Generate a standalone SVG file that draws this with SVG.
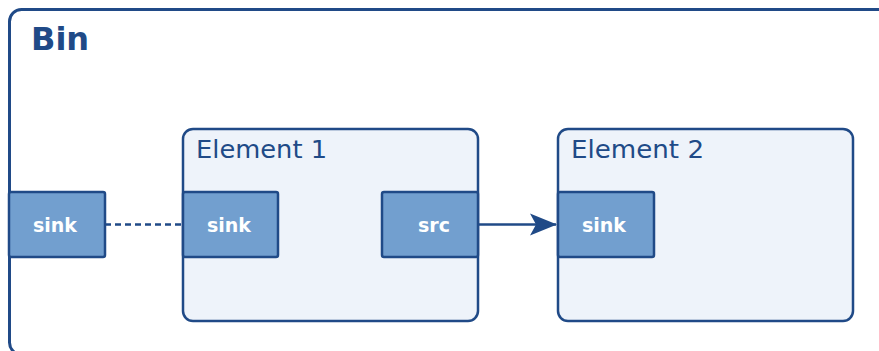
<svg xmlns="http://www.w3.org/2000/svg" width="879" height="351" viewBox="0 0 879 351">
<style>
.bin{fill:#ffffff;stroke:#204a87;stroke-width:3}
.el{fill:#eef3fa;stroke:#204a87;stroke-width:2.5}
.pad{fill:#729fcf;stroke:#204a87;stroke-width:2.5}
.ttl{font-family:"DejaVu Sans",sans-serif;fill:#204a87}
.pl{font-family:"DejaVu Sans",sans-serif;font-weight:bold;font-size:19px;fill:#ffffff;text-anchor:middle}
</style>
<defs>
<marker id="ah" markerWidth="28" markerHeight="24" refX="26" refY="12" orient="auto" markerUnits="userSpaceOnUse" viewBox="0 0 28 24">
<path d="M0,1 L27,12 L0,23 L6,12 Z" fill="#204a87"/>
</marker>
</defs>
<g id="bin">
<rect class="bin" x="9.5" y="9.5" width="890" height="345" rx="12"/>
<text class="ttl" x="31" y="50" font-size="32" font-weight="bold">Bin</text>
</g>
<g id="bin-sink">
<rect class="pad" x="9" y="192" width="96" height="65" rx="2"/>
<text class="pl" x="55" y="232">sink</text>
</g>
<g id="element1">
<rect class="el" x="183" y="129" width="295" height="192" rx="10"/>
<text class="ttl" x="196" y="158" font-size="24" textLength="131" lengthAdjust="spacingAndGlyphs">Element 1</text>
</g>
<g id="element1-sink">
<rect class="pad" x="183" y="192" width="95" height="65" rx="2"/>
<text class="pl" x="229" y="232">sink</text>
</g>
<g id="element1-src">
<rect class="pad" x="382" y="192" width="96" height="65" rx="2"/>
<text class="pl" x="434" y="232">src</text>
</g>
<g id="element2">
<rect class="el" x="558" y="129" width="295" height="192" rx="10"/>
<text class="ttl" x="571" y="158" font-size="24" textLength="133" lengthAdjust="spacingAndGlyphs">Element 2</text>
</g>
<g id="element2-sink">
<rect class="pad" x="558" y="192" width="96" height="65" rx="2"/>
<text class="pl" x="604" y="232">sink</text>
</g>
<g id="connectors">
<line x1="105" y1="224.5" x2="183" y2="224.5" stroke="#204a87" stroke-width="2.5" stroke-dasharray="6,4"/>
<line x1="478" y1="224.5" x2="556" y2="224.5" stroke="#204a87" stroke-width="2.5" marker-end="url(#ah)"/>
</g>
</svg>
